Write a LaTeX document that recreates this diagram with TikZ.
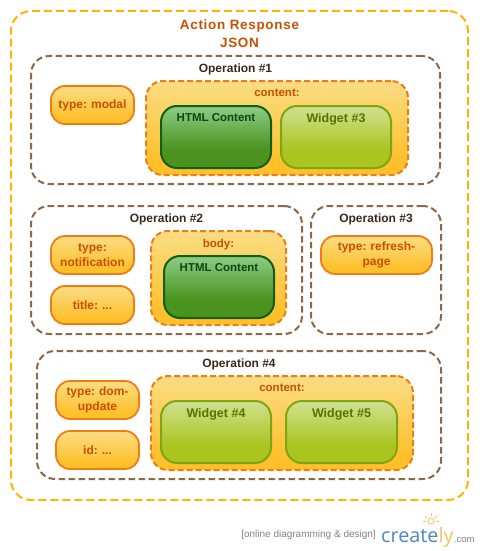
\documentclass[tikz,border=0pt]{standalone}
\usepackage{fontspec}
\setmainfont{Liberation Sans}
\newfontfamily\logofont{Open Sans}
\usepackage{xcolor}
\usetikzlibrary{positioning}
\definecolor{OuterAmber}{RGB}{255, 180, 0}
\definecolor{OpBrown}{RGB}{140, 104, 70}
\definecolor{PillOrange}{RGB}{240, 125, 20}
\definecolor{TextRust}{RGB}{200, 80, 0}
\definecolor{TextDark}{RGB}{60, 40, 25}
\definecolor{HtmlEdge}{RGB}{15, 95, 15}
\definecolor{HtmlText}{RGB}{15, 70, 20}
\definecolor{WidgetEdge}{RGB}{125, 165, 20}
\definecolor{WidgetText}{RGB}{85, 115, 0}
\definecolor{LogoBlue}{RGB}{75, 135, 195}
\definecolor{LogoGray}{RGB}{130, 130, 130}
\definecolor{LogoOrange}{RGB}{250, 190, 90}
\definecolor{AmberLow}{RGB}{255, 192, 42}
\definecolor{AmberHigh}{RGB}{249, 221, 132}
\definecolor{GreenLow}{RGB}{74, 147, 30}
\definecolor{GreenHigh}{RGB}{140, 205, 135}
\definecolor{LimeLow}{RGB}{171, 197, 32}
\definecolor{LimeHigh}{RGB}{208, 225, 145}
\pgfdeclareverticalshading{amberfade}{100bp}{
  color(0bp)=(AmberLow); color(32bp)=(AmberLow);
  color(75bp)=(AmberHigh); color(100bp)=(AmberHigh)}
\pgfdeclareverticalshading{greenfade}{100bp}{
  color(0bp)=(GreenLow); color(40bp)=(GreenLow);
  color(75bp)=(GreenHigh); color(100bp)=(GreenHigh)}
\pgfdeclareverticalshading{limefade}{100bp}{
  color(0bp)=(LimeLow); color(40bp)=(LimeLow);
  color(75bp)=(LimeHigh); color(100bp)=(LimeHigh)}
\tikzset{
  outerbox/.style={rectangle, rounded corners=20pt, draw=OuterAmber, line width=2pt,
    dash pattern=on 8pt off 4pt, minimum width=457pt, minimum height=489pt,
    inner sep=0pt, outer sep=0pt},
  opbox/.style={rectangle, rounded corners=18pt, draw=OpBrown, line width=2pt,
    dash pattern=on 6.5pt off 3.5pt, minimum height=128pt, inner sep=0pt, outer sep=0pt},
  pill/.style={rectangle, rounded corners=14pt, draw=PillOrange, line width=1.8pt,
    shading=amberfade, minimum width=83pt, minimum height=38pt, text width=80pt,
    align=center, inner sep=0pt, outer sep=0pt, font=\fontsize{12}{15}\selectfont\bfseries,
    text=TextRust},
  holder/.style={rectangle, rounded corners=17pt, draw=PillOrange, line width=2pt,
    dash pattern=on 6pt off 3pt, shading=amberfade, minimum height=94pt,
    inner sep=0pt, outer sep=0pt},
  htmlbox/.style={rectangle, rounded corners=16pt, draw=HtmlEdge, line width=2pt,
    shading=greenfade, minimum width=110pt, minimum height=62pt, inner sep=0pt, outer sep=0pt},
  widgetbox/.style={rectangle, rounded corners=16pt, draw=WidgetEdge, line width=2pt,
    shading=limefade, minimum width=110pt, minimum height=62pt, inner sep=0pt, outer sep=0pt},
  maintitle/.style={inner sep=0pt, font=\fontsize{13.5}{16}\selectfont\bfseries, text=TextRust},
  optitle/.style={inner sep=0pt, font=\fontsize{12}{14}\selectfont\bfseries, text=TextDark},
  holdtitle/.style={inner sep=0pt, font=\fontsize{11.5}{14}\selectfont\bfseries, text=TextRust},
  htmltitle/.style={inner sep=0pt, font=\fontsize{11.5}{14}\selectfont\bfseries, text=HtmlText},
  widgettitle/.style={inner sep=0pt, font=\fontsize{12.5}{14}\selectfont\bfseries, text=WidgetText},
}
\begin{document}
\frenchspacing
\begin{tikzpicture}[x=1pt, y=-1pt]
  \useasboundingbox (0,0) rectangle (479,551);
  \node[outerbox] (outer) at (239.5,255.5) {};
  \node[maintitle, below=8.5pt of outer.north] (title1)
    {\addfontfeature{LetterSpace=5}Action Response};
  \node[maintitle, below=27pt of outer.north] (title2)
    {\addfontfeature{LetterSpace=5}JSON};

  % operation 1
  \node[opbox, minimum width=409pt, below right=45pt and 20pt of outer.north west] (op1) {};
  \node[optitle, below=8pt of op1.north] (op1t) {Operation \#1};
  \node[pill, below right=30pt and 20pt of op1.north west] (modal) {type: modal};
  \node[holder, minimum width=262pt, below right=25pt and 115pt of op1.north west] (content1) {};
  \node[holdtitle, below=7.5pt of content1.north] (content1t) {content:};
  \node[htmlbox, below right=25pt and 15pt of content1.north west] (html1) {};
  \node[htmltitle, below=7.5pt of html1.north] (html1t) {HTML Content};
  \node[widgetbox, right=10pt of html1] (widget3) {};
  \node[widgettitle, below=7pt of widget3.north] (widget3t) {Widget \#3};

  % operation 2
  \node[opbox, minimum width=271pt, below right=22pt and 0pt of op1.south west] (op2) {};
  \node[optitle, below=8pt of op2.north] (op2t) {Operation \#2};
  \node[pill, below right=30pt and 20pt of op2.north west] (notif) {type:\\notification};
  \node[pill, below=12pt of notif] (msgtitle) {title: ...};
  \node[holder, minimum width=135pt, below right=25pt and 120pt of op2.north west] (body) {};
  \node[holdtitle, below=7.5pt of body.north] (bodyt) {body:};
  \node[htmlbox, below right=25pt and 13pt of body.north west] (html2) {};
  \node[htmltitle, below=7.5pt of html2.north] (html2t) {HTML Content};

  % operation 3
  \node[opbox, minimum width=130pt, right=9pt of op2] (op3) {};
  \node[optitle, below=8pt of op3.north] (op3t) {Operation \#3};
  \node[pill, minimum width=111pt, text width=108pt, below right=30pt and 10pt of op3.north west]
    (refresh) {type: refresh-\\page};

  % operation 4
  \node[opbox, minimum width=404pt, below right=17pt and 6pt of op2.south west] (op4) {};
  \node[optitle, below=8pt of op4.north] (op4t) {Operation \#4};
  \node[pill, below right=30pt and 19pt of op4.north west] (domtype) {type: dom-\\update};
  \node[pill, below=12pt of domtype] (domid) {id: ...};
  \node[holder, minimum width=262pt, below right=25pt and 114pt of op4.north west] (content4) {};
  \node[holdtitle, below=7.5pt of content4.north] (content4t) {content:};
  \node[widgetbox, below right=25pt and 10pt of content4.north west] (widget4) {};
  \node[widgettitle, below=7pt of widget4.north] (widget4t) {Widget \#4};
  \node[widgetbox, minimum width=111pt, right=15pt of widget4] (widget5) {};
  \node[widgettitle, below=7pt of widget5.north] (widget5t) {Widget \#5};

  % logo
  \node[inner sep=0pt, anchor=east, text=LogoGray, font=\fontsize{10}{12}\selectfont] (tagline)
    at (376,535) {[online diagramming \& design]};
  \node[inner sep=0pt, anchor=base west, font=\logofont\fontsize{19.8}{24}\selectfont, text=LogoBlue]
    (logo) at (381,542) {create\textcolor{LogoOrange}{ly}};
  \node[inner sep=0pt, anchor=base west, text=LogoGray, font=\fontsize{9.5}{11}\selectfont]
    (logocom) at (logo.base east) {.com};
  \node[circle, draw=LogoOrange, line width=0.8pt, minimum size=6pt, inner sep=0pt] (bulb)
    at (431,521) {};
  \foreach \a in {0,40,90,140,180}
    \draw[LogoOrange, line width=0.8pt] (bulb.\a) ++(\a:1.5pt) -- ++(\a:3pt);
\end{tikzpicture}
\end{document}
